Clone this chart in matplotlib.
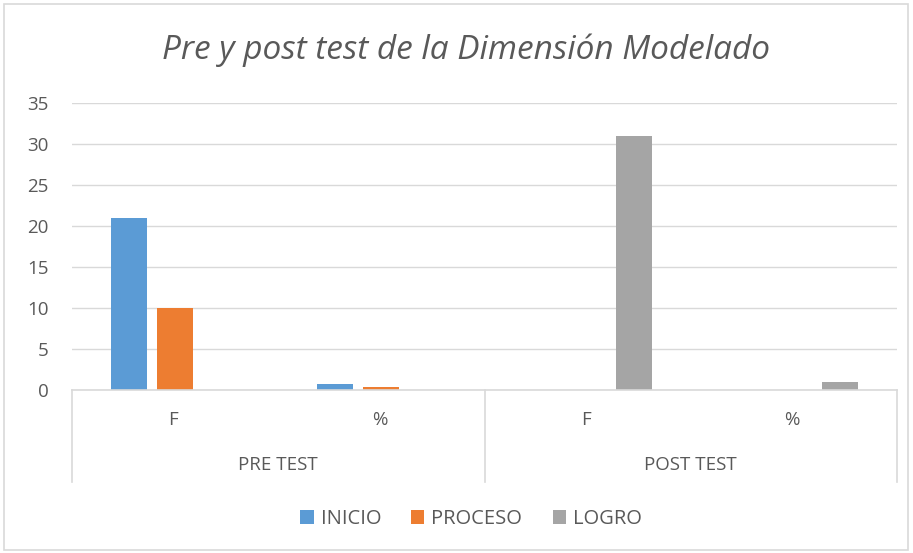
import matplotlib
matplotlib.use("Agg")
import matplotlib.pyplot as plt
from matplotlib.patches import Rectangle
from matplotlib.font_manager import fontManager
import numpy as np

groups = ["PRE TEST", "POST TEST"]
subcats = ["F", "%", "F", "%"]
series = ["INICIO", "PROCESO", "LOGRO"]
inicio = [21, 0.68, 0, 0]
proceso = [10, 0.32, 0, 0]
logro = [0, 0, 31, 1]
colors = ["#5B9BD5", "#ED7D31", "#A5A5A5"]
yticks = [0, 5, 10, 15, 20, 25, 30, 35]

names = {f.name for f in fontManager.ttflist}
fam = [f for f in ["Liberation Sans Narrow", "Open Sans", "DejaVu Sans"] if f in names]
plt.rcParams['font.family'] = fam

txt = "#595959"
grid = "#D9D9D9"

W, H = 913, 553
fig = plt.figure(figsize=(W/100, H/100), dpi=100)
fig.patches.append(Rectangle((4/W, 3/H), 1-9/W, 1-7/H, transform=fig.transFigure,
                             fill=False, edgecolor="#D9D9D9", lw=1.2))

left, right = 72/W, 897/W
bottom, top = 1-390/H, 1-103/H
ax = fig.add_axes([left, bottom, right-left, top-bottom])

x = np.arange(len(subcats))
bw = 0.175
off = 0.223
for i, (vals, c, name) in enumerate(zip([inicio, proceso, logro], colors, series)):
    ax.bar(x + (i-1)*off, vals, width=bw, color=c, label=name, zorder=3)

fs = 13.5
ax.set_xlim(-0.5, len(subcats)-0.5)
ax.set_ylim(0, 35)
ax.set_yticks(yticks)
ax.set_yticklabels([str(v) for v in yticks], color=txt, fontsize=fs)
ax.tick_params(axis='y', length=0, pad=17)
ax.tick_params(axis='x', length=0)
ax.set_xticks([])
ax.grid(axis='y', color=grid, lw=1, zorder=0)
for s in ["top", "right", "left"]:
    ax.spines[s].set_visible(False)
ax.spines["bottom"].set_color(grid)
ax.spines["bottom"].set_linewidth(1.2)
ax.spines["bottom"].set_zorder(4)

# multi-level category axis
ppu = (390-103)/35.0
def ydata(py):
    return (390 - py)/ppu

trans = ax.get_xaxis_transform()
for xv in [-0.5, 1.5, 3.5]:
    ax.plot([xv, xv], [0, ydata(482)/35], transform=trans, color=grid, lw=1.2, clip_on=False)
for xi, lab in zip(x, subcats):
    ax.text(xi - 0.01, ydata(420)/35, lab, transform=trans, ha='center', va='center', color=txt, fontsize=fs)
for gi, g in enumerate(groups):
    ax.text(0.5 + 2*gi, ydata(465)/35, g, transform=trans, ha='center', va='center', color=txt, fontsize=fs)

fig.text(466/W, 1-50/H, "Pre y post test de la Dimensión Modelado", ha='center', va='center',
         color=txt, fontsize=24, style='italic')

leg = fig.legend(loc='center', bbox_to_anchor=(471/W, 1-519/H), ncol=3, frameon=False,
                 fontsize=14.5, handlelength=0.65, handleheight=0.65, handletextpad=0.35,
                 columnspacing=1.5)
for t in leg.get_texts():
    t.set_color(txt)

fig.savefig("out.png", dpi=100)
